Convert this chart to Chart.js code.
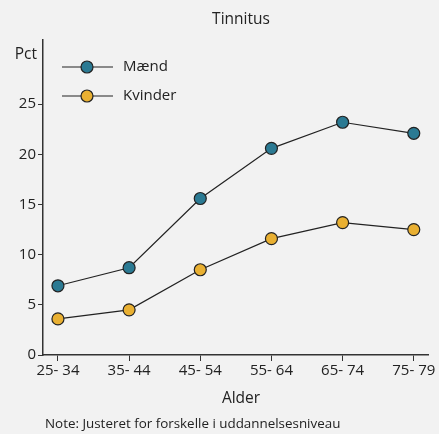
<!DOCTYPE html>
<html>
<head>
<meta charset="utf-8">
<script src="https://cdn.jsdelivr.net/npm/chart.js@4/dist/chart.umd.min.js"></script>
<style>
  html, body { margin: 0; padding: 0; background: #f2f2f2; }
  #wrap { width: 439px; height: 434px; position: relative; }
</style>
</head>
<body>
<div id="wrap"><canvas id="chart"></canvas></div>
<script>
// age groups and shares (pct) by sex
var ageGroups = ["25- 34", "35- 44", "45- 54", "55- 64", "65- 74", "75- 79"];
var maend = [6.9, 8.7, 15.6, 20.6, 23.2, 22.1];
var kvinder = [3.6, 4.5, 8.5, 11.6, 13.2, 12.5];
var yTicks = [0, 5, 10, 15, 20, 25];

var teal = "#2b7a93";
var gold = "#e9b032";
var ink = "#222222";
var font = "'Open Sans', 'DejaVu Sans', sans-serif";

function toPoints(values) {
  return values.map(function (v, i) { return { x: i, y: v }; });
}

// title, axis captions, note and the line+dot legend
var decorations = {
  id: "decorations",
  afterDraw: function (chart) {
    var ctx = chart.ctx;
    var area = chart.chartArea;
    ctx.save();
    ctx.fillStyle = ink;
    ctx.textBaseline = "middle";

    ctx.font = "15.5px " + font;
    ctx.textAlign = "center";
    ctx.fillText("Tinnitus", 241, 20);
    ctx.fillText("Alder", 241, 399);

    ctx.textAlign = "right";
    ctx.fillText("Pct", 37, 55);

    ctx.font = "13.4px " + font;
    ctx.textAlign = "left";
    ctx.fillText("Note: Justeret for forskelle i uddannelsesniveau", 45, 424);

    var items = [["Mænd", teal], ["Kvinder", gold]];
    items.forEach(function (item, k) {
      var y = 67 + k * 29;
      ctx.strokeStyle = ink;
      ctx.lineWidth = 1.2;
      ctx.beginPath();
      ctx.moveTo(area.left + 19, y);
      ctx.lineTo(area.left + 70, y);
      ctx.stroke();
      ctx.beginPath();
      ctx.arc(area.left + 44, y, 6, 0, Math.PI * 2);
      ctx.fillStyle = item[1];
      ctx.fill();
      ctx.stroke();
      ctx.fillStyle = ink;
      ctx.font = "15px " + font;
      ctx.fillText(item[0], area.left + 80, y);
    });
    ctx.restore();
  }
};

var ctx = document.getElementById("chart").getContext("2d");
var myChart = new Chart(ctx, {
  type: "line",
  data: {
    datasets: [
      {
        label: "Mænd",
        data: toPoints(maend),
        borderColor: ink,
        borderWidth: 1.2,
        pointBackgroundColor: teal,
        pointBorderColor: ink,
        pointBorderWidth: 1.2,
        pointRadius: 6,
        tension: 0,
      },
      {
        label: "Kvinder",
        data: toPoints(kvinder),
        borderColor: ink,
        borderWidth: 1.2,
        pointBackgroundColor: gold,
        pointBorderColor: ink,
        pointBorderWidth: 1.2,
        pointRadius: 6,
        tension: 0,
      },
    ],
  },
  options: {
    responsive: true,
    maintainAspectRatio: false,
    animation: false,
    layout: { padding: { top: 40, right: 11, bottom: 0, left: 0 } },
    scales: {
      x: {
        type: "linear",
        min: -0.21,
        max: 5.2,
        afterBuildTicks: function (axis) {
          axis.ticks = ageGroups.map(function (_, i) { return { value: i }; });
        },
        afterFit: function (axis) { axis.height = 79; },
        ticks: {
          color: ink,
          padding: 1,
          maxRotation: 0,
          font: { family: font, size: 15 },
          callback: function (value) { return ageGroups[value]; },
        },
        grid: { drawOnChartArea: false, color: "#333", tickLength: 6 },
        border: { color: "#333", width: 1.5 },
      },
      y: {
        min: 0,
        max: 31.4,
        afterBuildTicks: function (axis) {
          axis.ticks = yTicks.map(function (v) { return { value: v }; });
        },
        afterFit: function (axis) { axis.width = 43; },
        ticks: {
          color: ink,
          padding: 2,
          font: { family: font, size: 15 },
        },
        grid: { drawOnChartArea: false, color: "#333", tickLength: 5 },
        border: { color: "#333", width: 1.5 },
      },
    },
    plugins: {
      legend: { display: false },
      tooltip: { enabled: false },
    },
  },
  plugins: [decorations],
});
</script>
</body>
</html>
